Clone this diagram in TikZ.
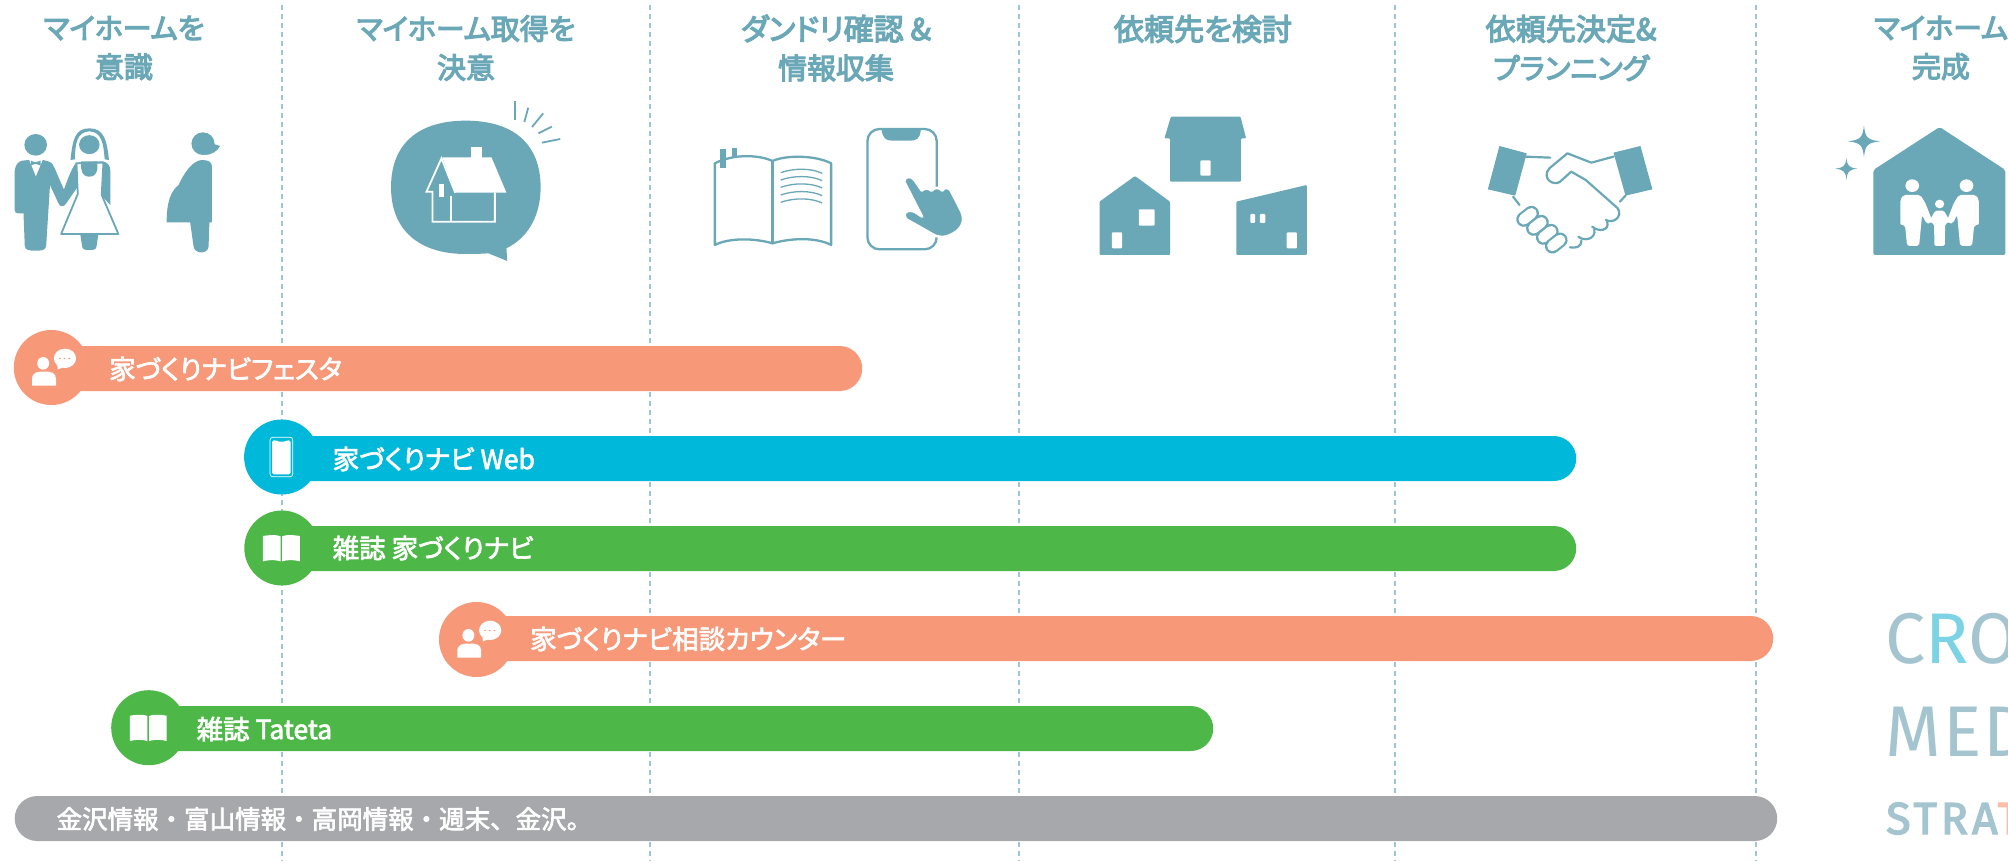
\documentclass[tikz,border=0pt]{standalone}
\usepackage{fontspec}
\newfontfamily\jpT[FakeBold=4,RawFeature={+palt}]{Noto Sans CJK JP}
\newfontfamily\jpTT[FakeBold=4,RawFeature={+palt},Scale=1.04]{Noto Sans CJK JP}
\newfontfamily\jpB[FakeBold=2.5,RawFeature={+palt}]{Noto Sans CJK JP}
\newfontfamily\jpG[FakeBold=2.5]{Noto Sans CJK JP}
\newfontfamily\din[LetterSpace=3]{Fira Sans}
\newfontfamily\dinb[LetterSpace=9,FakeBold=3]{Fira Sans}
\definecolor{tealc}{HTML}{6AA8B8}
\definecolor{guidec}{HTML}{9CC6D4}
\definecolor{salmon}{HTML}{F79879}
\definecolor{cyanb}{HTML}{00B8D9}
\definecolor{greenb}{HTML}{4DB848}
\definecolor{grayb}{HTML}{A7A8AC}
\definecolor{pale}{HTML}{A4C5D0}
\tikzset{
  zm/.style={x=0.42735bp,y=-0.33333bp},
  ttl/.style={text=tealc,align=center,font=\jpT\fontsize{29}{39}\selectfont,inner sep=0pt},
  barlabel/.style={text=white,anchor=west,font=\jpB\fontsize{26.6}{26.6}\selectfont,inner sep=0pt},
  barbox/.style={rectangle,rounded corners=22.5bp,minimum height=45bp,inner sep=0pt,anchor=west},
  guide/.style={guidec,line width=1.5bp,dash pattern=on 5bp off 4bp},
  ol/.style={draw=tealc,line width=2.3bp,fill=none,line join=round,line cap=round},
  wl/.style={draw=white,line width=1.8bp,fill=none},
  pics/talk/.style={code={
    \fill[white] (-19,-12.5) ellipse [x radius=14,y radius=19];
    \fill[white] (-45,54.5) -- (-45,35) .. controls (-45,13) and (-30,12) .. (-18,12) .. controls (0,12) and (11,15) .. (11,35) -- (11,54.5) -- cycle;
    \fill[white] (32,-27.5) ellipse [x radius=26,y radius=29];
    \fill[white] (14,-10) -- (15,6) -- (34,-4) -- cycle;
    \fill[salmon] (20,-27) ellipse [x radius=2.5,y radius=2] (31,-27) ellipse [x radius=2.5,y radius=2] (42,-27) ellipse [x radius=2.5,y radius=2];
  }},
  pics/mag/.style={code={
    \fill[white] (-44,-36) .. controls (-25,-40) and (-10,-40) .. (-3,-35) -- (-3,40) .. controls (-15,35) and (-30,35) .. (-44,40) -- cycle;
    \fill[white] (42,-36) .. controls (23,-40) and (8,-40) .. (1,-35) -- (1,40) .. controls (13,35) and (28,35) .. (42,40) -- cycle;
  }},
  pics/phone/.style={code={
    \draw[white,line width=.7bp,rounded corners=2.5bp] (-27,-59) rectangle (26,59);
    \fill[white,rounded corners=1.5bp] (-22,-50) -- (-12,-50) -- (-10,-46) -- (10,-46) -- (12,-50) -- (21,-50) -- (21,52) -- (-22,52) -- cycle;
  }}
}
\begin{document}
\begin{tikzpicture}[x=1bp,y=-1bp]
\useasboundingbox (0,0) rectangle (2008,861);
\clip (0,0) rectangle (2008,861);
\fill[white] (0,0) rectangle (2008,861);

% guides
\foreach \gx in {282,650,1019,1395,1756}
  \draw[guide] (\gx,5) -- (\gx,861);

% titles
\node[ttl] (t1) at (124,48) {マイホームを\\意識};
\node[ttl] (t2) at (466,48) {マイホーム取得を\\決意};
\node[ttl] (t3) at (836,48) {{\jpTT ダンドリ確認 \&}\\情報収集};
\node[ttl] (t4) at (1203,29) {{\jpTT 依頼先を検討}};
\node[ttl] (t5) at (1571,48) {{\jpTT 依頼先決定\&}\\プランニング};
\node[ttl] (t6) at (1941,48) {マイホーム\\完成};

% === icons row, zoom coordinates ===
\begin{scope}[zm]
  % groom
  \fill[tealc] (83.5,434.5) ellipse [x radius=26.5,y radius=32.5];
  \fill[tealc] (34,515) .. controls (36,495) and (42,485) .. (52,482) -- (68,480) -- (84,530) -- (100,480) -- (113,484) .. controls (122,488) and (125,495) .. (128,505) -- (155,585) -- (148,618) .. controls (143,622) and (138,615) .. (136,608) -- (117,555) -- (108,738) .. controls (106,750) and (100,752) .. (85,752) .. controls (65,752) and (60,750) .. (58,738) -- (55,640) -- (44,640) .. controls (36,640) and (34,635) .. (34,628) -- cycle;
  \fill[tealc] (72,482) -- (83,487) -- (95,482) -- (95,497) -- (83,491) -- (72,497) -- cycle;
  % bride
  \fill[tealc] (165,480) .. controls (170,420) and (175,385) .. (209,385) .. controls (243,385) and (250,420) .. (255,480) -- (245,478) .. controls (242,430) and (238,396) .. (209,394) .. controls (180,396) and (176,430) .. (175,478) -- cycle;
  \fill[tealc] (209,434) ellipse [x radius=24,y radius=28.5];
  \fill[tealc] (178,488) .. controls (165,510) and (155,550) .. (145,585) -- (138,612) .. controls (145,622) and (150,620) .. (155,610) -- (182,560) -- (240,590) -- (258,615) -- (258,510) .. controls (258,495) and (250,486) .. (240,484) -- cycle;
  \filldraw[fill=white,draw=tealc,line width=1.8bp,line join=round] (179,490) -- (182,582) -- (143,702) -- (277,702) -- (238,585) -- (242,488) -- cycle;
  \fill[tealc] (190,484) -- (190,505) .. controls (192,525) and (200,530) .. (209,530) .. controls (222,530) and (226,520) .. (228,505) -- (228,484) -- cycle;
  \fill[tealc] (188,704) -- (230,704) -- (226,738) .. controls (225,748) and (222,750) .. (209,750) .. controls (196,750) and (193,748) .. (192,738) -- cycle;
  % pregnant
  \fill[tealc] (475,431) ellipse [x radius=27,y radius=34];
  \fill[tealc] (490,410) -- (500,432) -- (515,438) .. controls (510,452) and (495,465) .. (480,465) -- cycle;
  \fill[tealc] (496,500) .. controls (496,486) and (488,480) .. (472,480) .. controls (450,482) and (430,520) .. (418,555) .. controls (398,575) and (390,610) .. (390,667) -- (445,667) -- (453,740) .. controls (456,762) and (486,764) .. (488,740) -- (490,667) -- (496,667) -- cycle;
  % speech bubble
  \fill[tealc] (915,562) .. controls (915,430) and (980,362) .. (1090,362) .. controls (1200,362) and (1265,430) .. (1265,562) .. controls (1265,640) and (1240,710) .. (1185,745) -- (1187,783) -- (1143,760) .. controls (1120,762) and (1105,762) .. (1090,762) .. controls (980,762) and (915,690) .. (915,562) -- cycle;
  \fill[white] (1102,442) rectangle (1127,475);
  \fill[white] (1035,472) -- (1150,472) -- (1185,578) -- (1065,578) -- cycle;
  \draw[wl,line join=miter] (1065,578) -- (1033,475) -- (998,575) -- (1012,575) -- (1012,665) -- (1158,665) -- (1158,578);
  \draw[wl] (1056,588) -- (1056,665);
  \fill[white] (1028,553) rectangle (1038,590);
  \foreach \ax/\ay/\bx/\by in {1205/303/1205/360,1236/323/1227/366,1271/340/1245/381,1291/380/1260/400,1311/417/1268/428}
    \draw[tealc,line width=1.8bp] (\ax,\ay) -- (\bx,\by);
\end{scope}

\begin{scope}[shift={(670,0)},zm]
  % book
  \draw[ol] (105,490) .. controls (150,460) and (210,465) .. (240,483) .. controls (270,465) and (340,465) .. (377,490) -- (377,735) .. controls (340,710) and (280,715) .. (240,730) .. controls (200,715) and (140,712) .. (105,735) -- cycle;
  \draw[ol] (240,483) -- (240,730);
  \fill[tealc] (118,448) rectangle (132,503);
  \fill[tealc] (145,445) rectangle (157,475);
  \foreach \ly in {518,540,562,585,607}
    \draw[tealc,line width=1.3bp] (259,\ly) .. controls (290,\ly-14) and (330,\ly-14) .. (356,\ly+2);
  % phone
  \draw[ol,rounded corners=12bp] (462,387) rectangle (624,748);
  \fill[tealc] (495,389) .. controls (498,415) and (505,422) .. (520,422) -- (562,422) .. controls (578,422) and (585,415) .. (587,389) -- cycle;
  % hand
  \filldraw[fill=tealc,draw=white,line width=2.5bp,line join=round] (548,545) .. controls (548,527) and (565,527) .. (572,540) -- (589,572) .. controls (597,562) and (605,565) .. (612,572) .. controls (620,560) and (630,562) .. (637,572) .. controls (642,560) and (652,562) .. (657,572) -- (682,635) .. controls (692,665) and (682,692) .. (652,707) .. controls (630,717) and (620,707) .. (600,692) -- (553,658) .. controls (543,645) and (550,625) .. (572,635) -- (590,650) -- cycle;
  % houses
  \begin{scope}[rounded corners=1bp]
  \fill[tealc] (1172,350) -- (1335,350) -- (1348,415) -- (1336,415) -- (1336,545) -- (1170,545) -- (1170,415) -- (1157,415) -- cycle;
  \fill[tealc] (1088,528) -- (1170,605) -- (1170,765) -- (1005,765) -- (1005,605) -- cycle;
  \fill[tealc] (1325,605) -- (1490,555) -- (1490,765) -- (1325,765) -- cycle;
  \fill[white] (1241,481) rectangle (1265,527);
  \fill[white] (1097,628) rectangle (1134,677);
  \fill[white] (1034,697) rectangle (1058,745);
  \fill[white] (1358,642) rectangle (1369,669);
  \fill[white] (1380,642) rectangle (1393,669);
  \fill[white] (1443,697) rectangle (1467,745);
  \end{scope}
\end{scope}

\begin{scope}[shift={(1340,0)},zm]
  % handshake
  \fill[tealc] (373,438) -- (437,460) -- (410,587) -- (346,568) -- cycle;
  \fill[tealc] (703,438) -- (640,458) -- (668,587) -- (731,568) -- cycle;
  \foreach \fx/\fy in {439/649,462/676,485/703,506/729} {
    \draw[tealc,line width=15bp,line cap=round] (\fx-9,\fy+9) -- (\fx+9,\fy-9);
    \draw[white,line width=10.6bp,line cap=round] (\fx-9,\fy+9) -- (\fx+9,\fy-9);
  }
  \begin{scope}[tealc,line width=2.2bp,line cap=round,line join=round]
  \draw (435,470) -- (492,473);
  \draw (405,590) -- (420,615);
  \draw (655,605) -- (668,587);
  \draw (640,470) -- (588,488) -- (532,460) -- (490,505) .. controls (470,535) and (500,560) .. (515,545) -- (541,515) -- (575,540) -- (650,625) .. controls (662,650) and (640,672) .. (622,660);
  \draw (625,665) .. controls (632,692) and (605,697) .. (590,680);
  \draw (595,688) .. controls (600,718) and (570,725) .. (558,710);
  \draw (565,722) .. controls (565,742) and (550,745) .. (538,742);
  \end{scope}
  % sparkles
  \fill[tealc] (1226,376) .. controls (1229,410) and (1232,420) .. (1264,424) .. controls (1232,428) and (1229,438) .. (1226,472) .. controls (1223,438) and (1220,428) .. (1188,424) .. controls (1220,420) and (1223,410) .. (1226,376) -- cycle;
  \fill[tealc] (1185,473) .. controls (1187,497) and (1190,503) .. (1211,506) .. controls (1190,509) and (1187,515) .. (1185,540) .. controls (1183,515) and (1180,509) .. (1158,506) .. controls (1180,503) and (1183,497) .. (1185,473) -- cycle;
  % family home
  \fill[tealc,rounded corners=2bp] (1403,381) -- (1557,510) -- (1557,765) -- (1248,765) -- (1248,510) -- cycle;
  \fill[white] (1339,557) ellipse [x radius=16,y radius=19];
  \fill[white] (1466,557) ellipse [x radius=16,y radius=19];
  \fill[white] (1403,612) ellipse [x radius=11,y radius=13];
  % left parent
  \fill[white,rounded corners=2bp] (1311,675) -- (1311,600) -- (1318,585) -- (1358,585) -- (1370,610) -- (1385,660) -- (1380,672) -- (1372,670) -- (1362,645) -- (1355,738) -- (1327,738) -- (1322,675) -- cycle;
  % right parent
  \fill[white,rounded corners=2bp] (1495,675) -- (1495,600) -- (1488,585) -- (1448,585) -- (1436,610) -- (1421,660) -- (1426,672) -- (1434,670) -- (1444,645) -- (1451,738) -- (1479,738) -- (1484,675) -- cycle;
  % child
  \fill[white,rounded corners=1.5bp] (1378,665) -- (1393,632) -- (1413,632) -- (1428,665) -- (1416,672) -- (1415,738) -- (1391,738) -- (1390,672) -- cycle;
\end{scope}

% bars
\node[barbox,fill=salmon,minimum width=820bp] (bar1) at (42,368.5) {};
\node[barbox,fill=cyanb,minimum width=1294bp] (bar2) at (282,458.5) {};
\node[barbox,fill=greenb,minimum width=1294bp] (bar3) at (282,548.5) {};
\node[barbox,fill=salmon,minimum width=1297bp] (bar4) at (476,638.5) {};
\node[barbox,fill=greenb,minimum width=1064bp] (bar5) at (149,728.5) {};
\node[barbox,fill=grayb,minimum width=1762.5bp] (bar6) at (14.5,818.5) {};

% badges
\fill[salmon] (51.3,367.5) circle [radius=37.5];
\fill[cyanb] (281.6,457) circle [radius=37.5];
\fill[greenb] (281.8,548) circle [radius=37.5];
\fill[salmon] (476.5,639.5) circle [radius=37.5];
\fill[greenb] (148.7,727.7) circle [radius=37.5];

\begin{scope}[shift={(51.3,367.5)},zm] \pic {talk}; \end{scope}
\begin{scope}[shift={(476.5,639.5)},zm] \pic {talk}; \end{scope}
\begin{scope}[shift={(281.6,457)},zm] \pic {phone}; \end{scope}
\begin{scope}[shift={(281.8,548)},zm] \pic {mag}; \end{scope}
\begin{scope}[shift={(148.7,727.7)},zm] \pic {mag}; \end{scope}

% bar labels
\node[barlabel] (l1) at (109,369) {家づくりナビフェスタ};
\node[barlabel] (l2) at (332.5,459) {家づくりナビ Web};
\node[barlabel] (l3) at (332.5,548) {雑誌 家づくりナビ};
\node[barlabel] (l4) at (530,639) {家づくりナビ相談カウンター};
\node[barlabel] (l5) at (196.5,729) {雑誌 Tateta};
\node[barlabel,font=\jpG\fontsize{25.6}{25.6}\selectfont] (l6) at (56.4,819) {金沢情報・富山情報・高岡情報・週末、金沢。};

% strategy text, running off the page
\node[anchor=base west,inner sep=0pt,font=\din\fontsize{72}{72}\selectfont,text=pale] (s1) at (1885,663) {C\textcolor[HTML]{7DD3E6}{R}O};
\node[anchor=base west,inner sep=0pt,font=\din\fontsize{72}{72}\selectfont,text=pale] (s2) at (1885,756) {MED};
\node[anchor=base west,inner sep=0pt,font=\dinb\fontsize{45}{45}\selectfont,text=pale] (s3) at (1886,834) {STRA\textcolor[HTML]{FBBDA8}{T}};
\end{tikzpicture}
\end{document}
